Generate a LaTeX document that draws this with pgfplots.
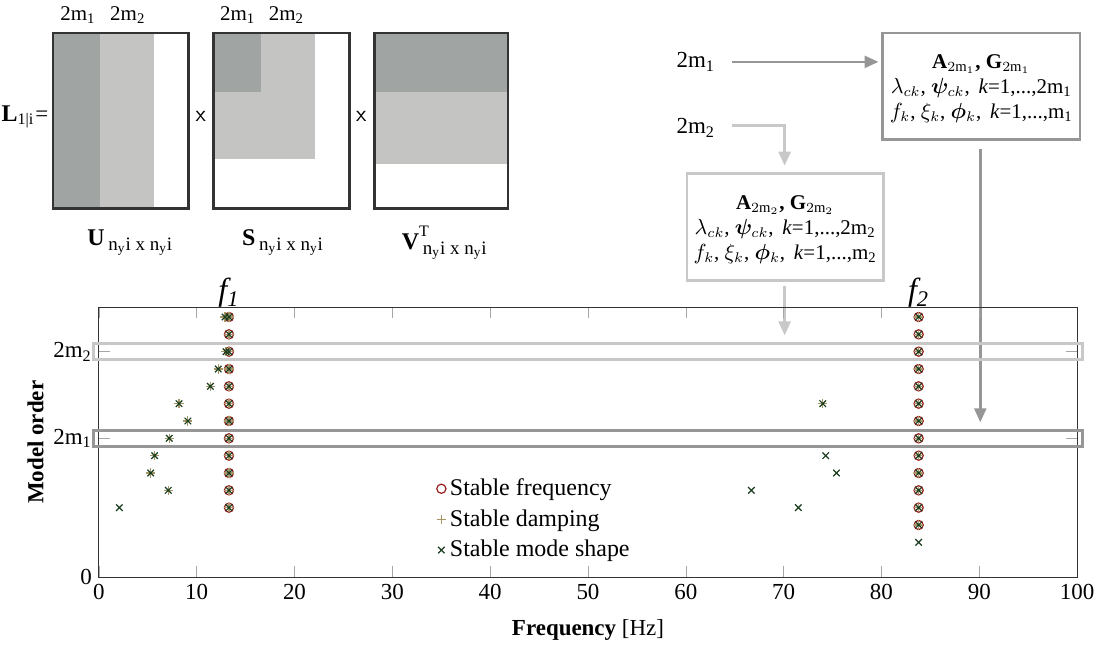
\documentclass[border=0pt]{standalone}
\usepackage{fontspec}
\setmainfont{Liberation Serif}
\usepackage{bm}
\usepackage{pgfplots}
\pgfplotsset{compat=1.18}
\usetikzlibrary{arrows.meta}
\definecolor{dkfill}{RGB}{160,164,163}
\definecolor{ltfill}{RGB}{196,196,194}
\definecolor{dkline}{RGB}{150,150,150}
\definecolor{ltline}{RGB}{200,200,200}
\definecolor{cfreq}{RGB}{150,30,30}
\definecolor{cdamp}{RGB}{165,150,100}
\definecolor{cmode}{RGB}{25,60,30}
\newcommand{\nsub}{\raisebox{-0.45ex}{\fontsize{9.5}{10}\selectfont n\textsubscript{y}i x n\textsubscript{y}i}}
\begin{document}
\begin{tikzpicture}[font=\fontsize{11.5}{14}\selectfont]
\begin{scope}[x=0.5pt,y=-0.5pt]
\useasboundingbox (0,0) rectangle (1101,644);
% ---- U matrix
\fill[dkfill] (53,33) rectangle (100,209);
\fill[ltfill] (100,33) rectangle (154,209);
\draw[line width=1.3pt, black!80] (53,33) rectangle (189,209);
% ---- S matrix
\fill[ltfill] (214,33) rectangle (316,159);
\fill[dkfill] (214,33) rectangle (261,92);
\draw[line width=1.3pt, black!80] (214,33) rectangle (350,209);
% ---- V^T matrix
\fill[ltfill] (375,92) rectangle (509,164);
\fill[dkfill] (375,33) rectangle (509,92);
\draw[line width=1.3pt, black!80] (375,33) rectangle (509,209);
% labels above
\begin{scope}[every node/.style={font=\fontsize{10.5}{12}\selectfont}]
\node at (78,15) {2m\textsubscript{1}};
\node at (128,15) {2m\textsubscript{2}};
\node at (238,15) {2m\textsubscript{1}};
\node at (287,15) {2m\textsubscript{2}};
\end{scope}
% L =
\node[inner sep=0pt] at (25,117) {{\large\bfseries L}\textsubscript{1|i}\kern0.5pt=};
\node at (201,117) {\sffamily x};
\node at (362,117) {\sffamily x};
% labels below
\node at (130,243) {{\large\bfseries U}\,\nsub};
\node at (283,243) {{\large\bfseries S}\,\nsub};
\node at (445,243) {{\large\bfseries V}\rlap{\raisebox{1.2ex}{\fontsize{8}{9}\selectfont T}}\,\nsub};
% right side labels and arrows
\node at (697,62) {2m\textsubscript{1}};
\node at (697,128) {2m\textsubscript{2}};
\draw[dkline, line width=1.3pt, -{Triangle[width=6pt,length=7pt]}] (733,62) -- (880,62);
\draw[ltline, line width=1.3pt, -{Triangle[width=6pt,length=7pt]}] (733,126) -- (786,126) -- (786,166);
\draw[ltline, line width=1.3pt, -{Triangle[width=6pt,length=7pt]}] (786,287) -- (786,336);
\draw[dkline, line width=1.3pt, -{Triangle[width=6pt,length=7pt]}] (982,149) -- (982,423);
% box 1
\draw[dkline, line width=1.3pt] (884,33) rectangle (1082,140);
\node[align=center, font=\fontsize{10.5}{12.5}\selectfont] at (983,89) {%
\textbf{A}$_{2\mathrm{m}_1}$\textbf{,} \textbf{G}$_{2\mathrm{m}_1}$\\
$\lambda_{ck}$, $\bm{\psi}_{ck}$,\, \textit{k}=1,...,2m\textsubscript{1}\\
$f_k$, $\xi_k$, $\bm{\phi}_k$,\, \textit{k}=1,...,m\textsubscript{1}};
% box 2
\draw[ltline, line width=1.3pt] (688,174) rectangle (885,281);
\node[align=center, font=\fontsize{10.5}{12.5}\selectfont] at (786.5,230) {%
\textbf{A}$_{2\mathrm{m}_2}$\textbf{,} \textbf{G}$_{2\mathrm{m}_2}$\\
$\lambda_{ck}$, $\bm{\psi}_{ck}$,\, \textit{k}=1,...,2m\textsubscript{2}\\
$f_k$, $\xi_k$, $\bm{\phi}_k$,\, \textit{k}=1,...,m\textsubscript{2}};
\end{scope}
\begin{axis}[
  at={(49.5pt,-289pt)}, anchor=south west,
  scale only axis, width=490pt, height=135pt,
  xmin=0, xmax=100, ymin=0, ymax=31.1,
  clip=false,
  xtick distance=10,
  ytick={0,16,26},
  yticklabels={0,2m\textsubscript{1},2m\textsubscript{2}},
  tick align=inside,
  major tick length=5.5pt,
  tick style={black!35},
  axis line style={black!80},
  ticklabel style={font=\fontsize{11.5}{14}\selectfont},
  /pgf/number format/assume math mode=true,
  xlabel={\textbf{Frequency} [Hz]},
  ylabel={\textbf{Model order}},
  label style={font=\fontsize{11.5}{14}\selectfont},
  xlabel style={yshift=-3pt},
  ylabel style={yshift=-2pt},
  legend style={at={(axis description cs:0.343,0.388)}, anchor=north west, draw=none, fill=none,
    font=\fontsize{12}{14}\selectfont, row sep=1.5pt, inner sep=1pt},
  legend cell align=left,
  mark size=2.3pt,
]
\draw[ltline, line width=1.5pt] (axis cs:-0.55,25.08) rectangle (axis cs:100.55,26.92);
\draw[dkline, line width=1.5pt] (axis cs:-0.55,15.08) rectangle (axis cs:100.55,16.92);
\node[anchor=south, inner sep=1pt, font=\fontsize{16}{18}\selectfont\itshape] at (axis cs:13.3,30.8) {f\textsubscript{1}};
\node[anchor=south, inner sep=1pt, font=\fontsize{16}{18}\selectfont\itshape] at (axis cs:83.8,30.8) {f\textsubscript{2}};
\addplot[only marks, mark=o, cfreq, mark options={line width=0.6pt}] coordinates {
 (13.3,8) (13.3,10) (13.3,12) (13.3,14) (13.3,16) (13.3,18) (13.3,20) (13.3,22) (13.3,24) (13.3,26) (13.3,28) (13.3,30)
 (83.8,6) (83.8,8) (83.8,10) (83.8,12) (83.8,14) (83.8,16) (83.8,18) (83.8,20) (83.8,22) (83.8,24) (83.8,26) (83.8,28) (83.8,30)
};
\addlegendentry{Stable frequency}
\addplot[only marks, mark=+, cdamp, mark options={line width=0.6pt}] coordinates {
 (13.3,8) (13.3,10) (13.3,12) (13.3,14) (13.3,16) (13.3,18) (13.3,20) (13.3,22) (13.3,24) (13.3,26) (13.3,28) (13.3,30)
 (7.1,10) (5.3,12) (5.7,14) (7.2,16) (9.1,18) (8.2,20) (11.4,22) (12.2,24) (13.0,26) (12.9,30)
 (74.0,20)
 (83.8,6) (83.8,8) (83.8,10) (83.8,12) (83.8,14) (83.8,16) (83.8,18) (83.8,20) (83.8,22) (83.8,24) (83.8,26) (83.8,28) (83.8,30)
};
\addlegendentry{Stable damping}
\addplot[only marks, mark=x, cmode, mark options={line width=0.6pt}] coordinates {
 (13.3,8) (13.3,10) (13.3,12) (13.3,14) (13.3,16) (13.3,18) (13.3,20) (13.3,22) (13.3,24) (13.3,26) (13.3,28) (13.3,30)
 (2.1,8)
 (7.1,10) (5.3,12) (5.7,14) (7.2,16) (9.1,18) (8.2,20) (11.4,22) (12.2,24) (13.0,26) (12.9,30)
 (71.5,8) (66.7,10) (75.4,12) (74.3,14) (74.0,20)
 (83.8,4) (83.8,6) (83.8,8) (83.8,10) (83.8,12) (83.8,14) (83.8,16) (83.8,18) (83.8,20) (83.8,22) (83.8,24) (83.8,26) (83.8,28) (83.8,30)
};
\addlegendentry{Stable mode shape}
\end{axis}
\end{tikzpicture}
\end{document}
